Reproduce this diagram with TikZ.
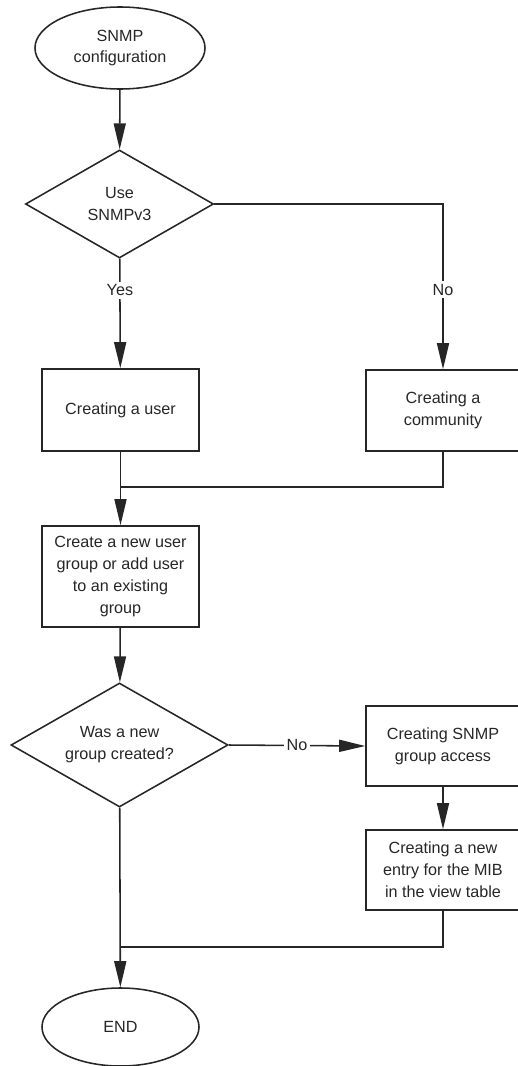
\documentclass[tikz,border=0pt]{standalone}
\usepackage{fontspec}
\setmainfont{Liberation Sans}
\usetikzlibrary{shapes.geometric,arrows.meta}

\begin{document}
\begin{tikzpicture}[x=0.025cm,y=-0.025cm,
  every node/.style={font=\fontsize{11.5}{15.6}\selectfont,text=black!85},
  line/.style={line width=1.1pt,draw=black!85},
  arr/.style={line,-{Triangle[length=6.5mm,width=3mm]}},
  term/.style={ellipse,line,inner sep=0pt,align=center},
  dec/.style={diamond,line,inner sep=0pt,aspect=1.74,align=center},
  proc/.style={rectangle,line,inner sep=0pt,minimum width=3.85cm,minimum height=2cm,align=center},
  lab/.style={fill=white,inner sep=2pt}]
\useasboundingbox (0,0) rectangle (518,1066);

\node[term,minimum width=4.25cm,minimum height=2.05cm] (start) at (120,48) {SNMP\\configuration};
\node[dec,minimum width=4.7cm,minimum height=2.7cm] (usev3) at (119.5,204) {Use\\SNMPv3};
\node[proc,minimum width=3.925cm,minimum height=2.05cm] (user) at (120.5,410) {Creating a user};
\node[proc,minimum height=2.025cm] (comm) at (443,410.5) {Creating a\\community};
\node[proc,minimum width=3.925cm,minimum height=2.525cm] (group) at (120.5,576.5) {Create a new user\\group or add user\\to an existing\\group};
\node[dec,minimum width=5.425cm,minimum height=3.1cm] (newgrp) at (119.5,745) {Was a new\\group created?};
\node[proc] (access) at (443,746) {Creating SNMP\\group access};
\node[proc] (mib) at (443,870) {Creating a new\\entry for the MIB\\in the view table};
\node[term,minimum width=3.925cm,minimum height=1.95cm] (end) at (120.5,1027) {END};

\coordinate (join1) at (120.5,487);
\coordinate (join2) at (120.5,947);

% connectors
\draw[arr] (start) -- (usev3);
\draw[arr] (usev3) -- node[lab,pos=0.29] {Yes} (user);
\draw[arr] (usev3.east) -| node[lab,pos=0.76] {No} (comm.north);
\draw[line] (comm.south) |- (join1);
\draw[arr] (user) -- (group);
\draw[arr] (group) -- (newgrp);
\draw[arr] (newgrp.east) -- node[lab] {No} (access.west);
\draw[arr] (access) -- (mib);
\draw[line] (mib.south) |- (join2);
\draw[arr] (newgrp) -- (end);
\end{tikzpicture}
\end{document}
